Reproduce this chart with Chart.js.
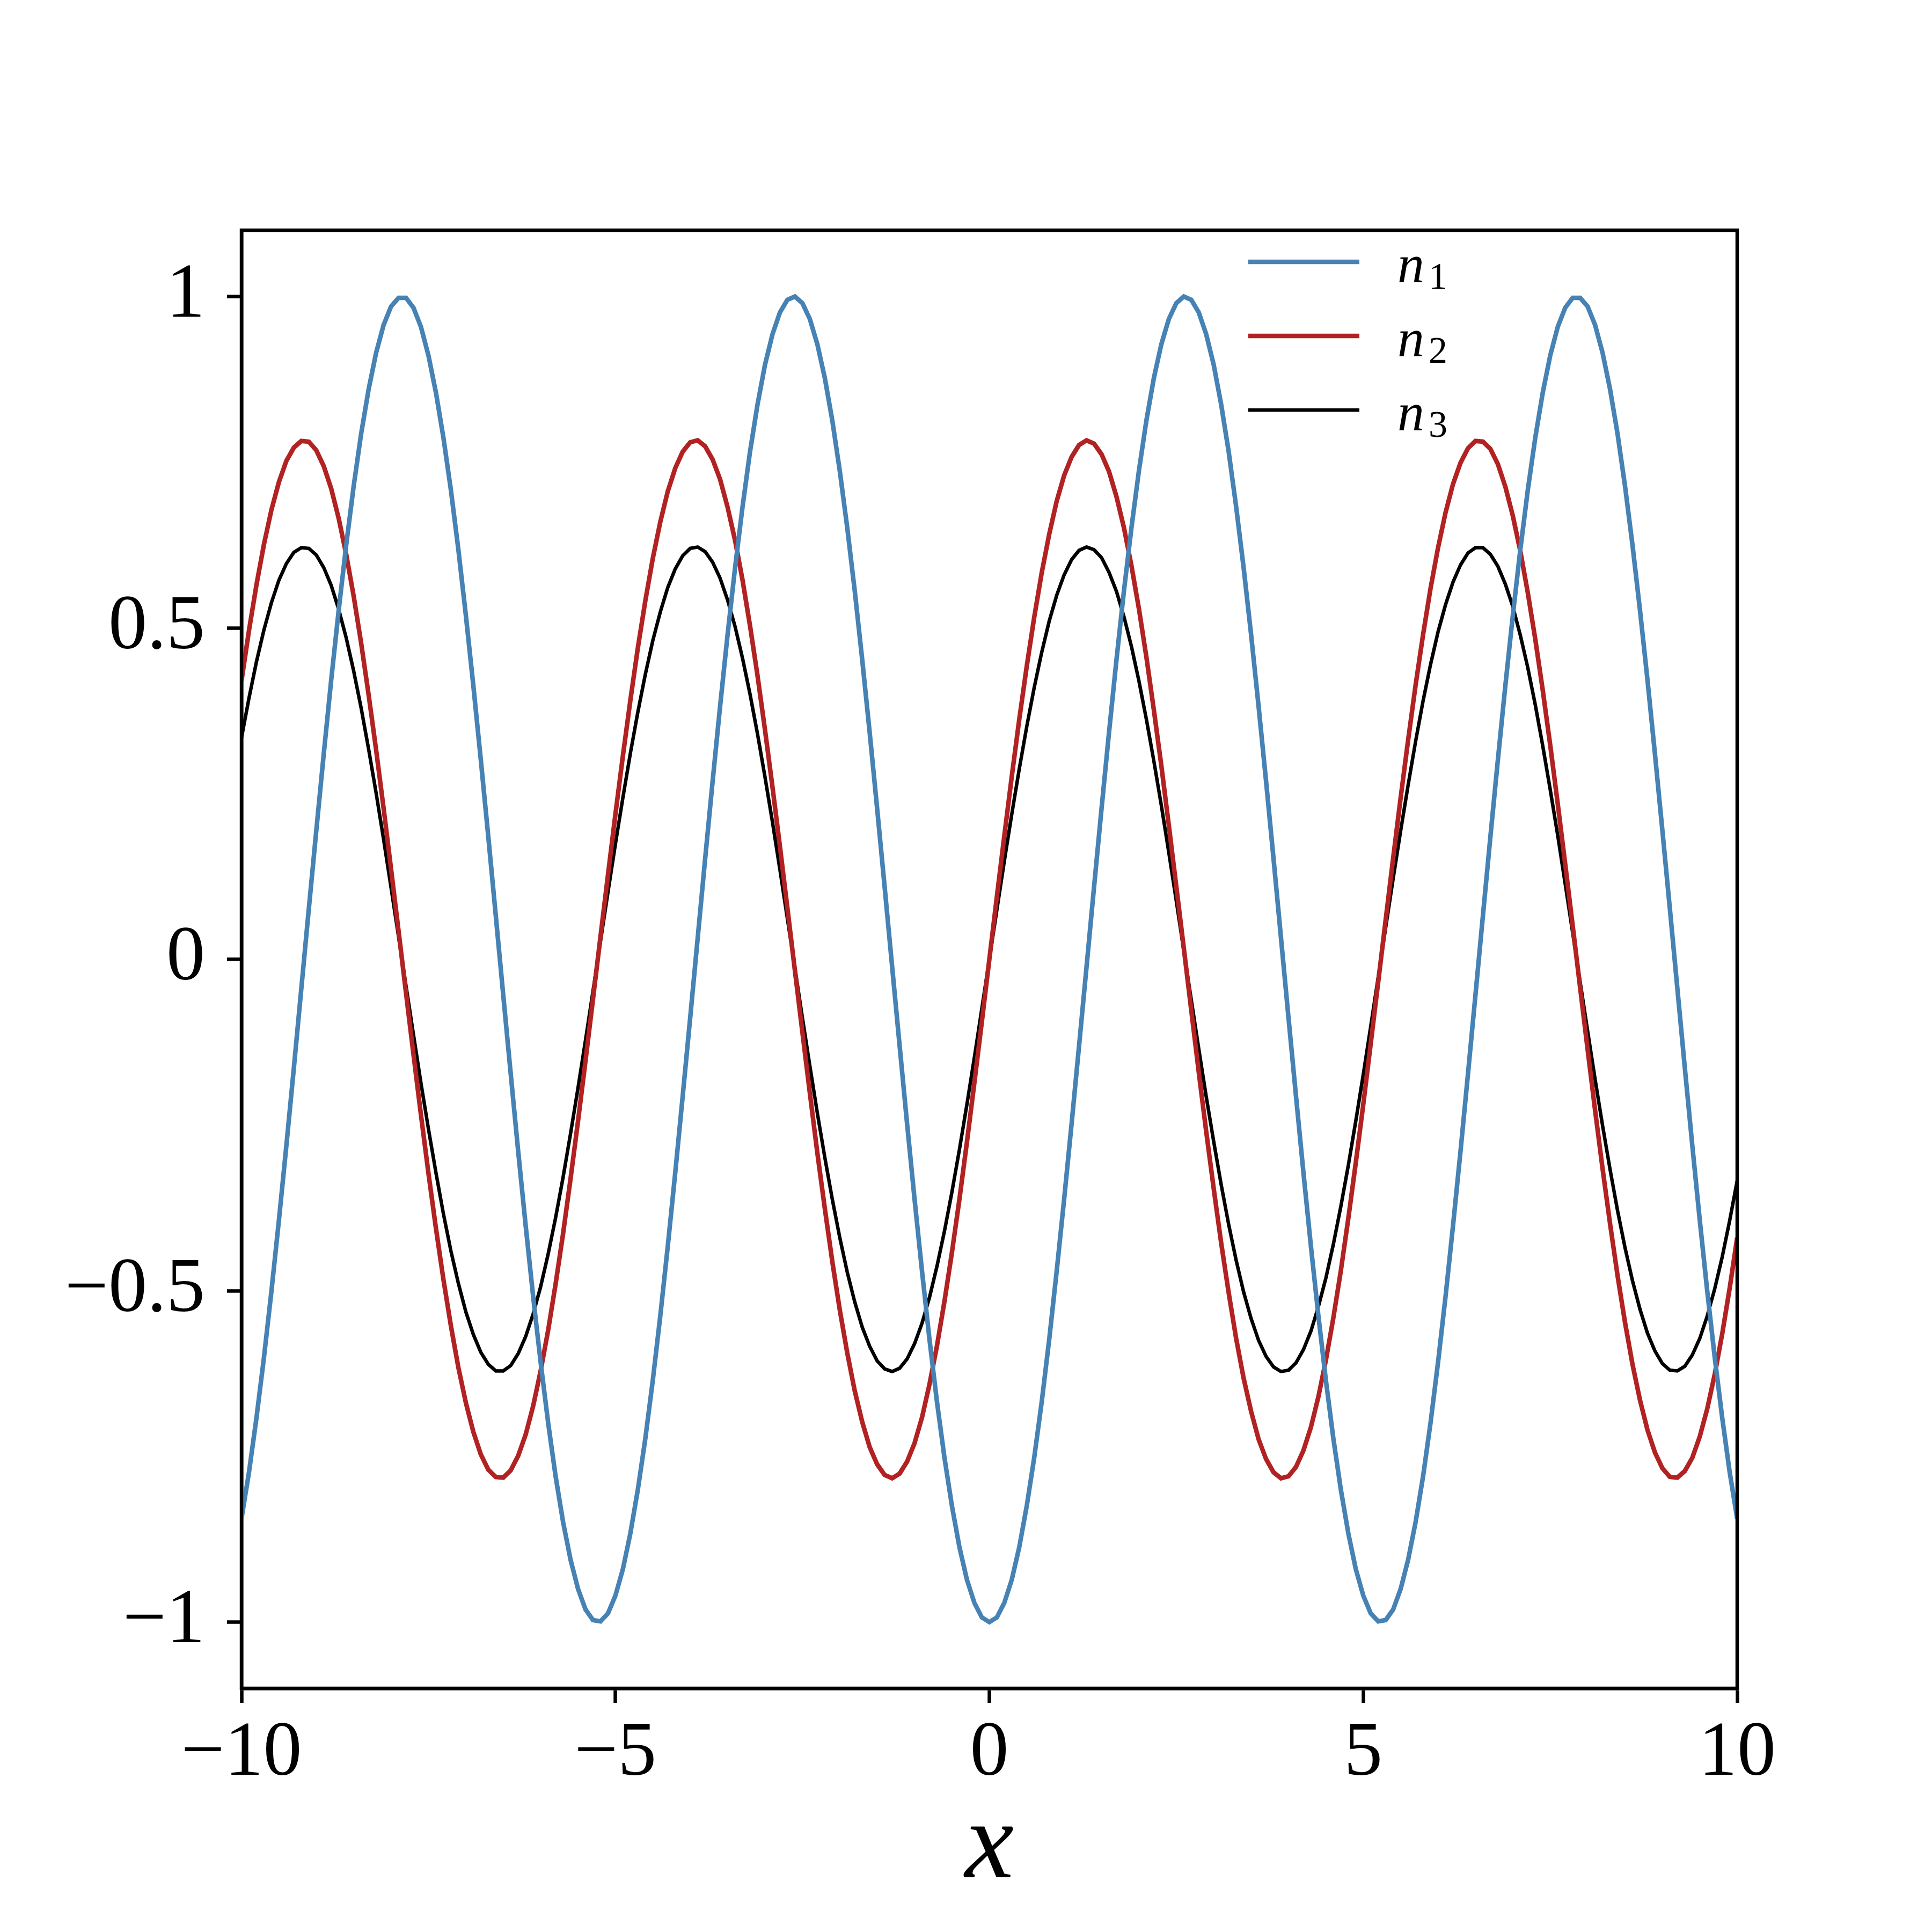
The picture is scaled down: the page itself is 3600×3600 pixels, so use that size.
<!DOCTYPE html>
<html>
<head>
<meta charset="utf-8">
<title>n1 n2 n3</title>
<script src="https://cdn.jsdelivr.net/npm/chart.js@4.4.1/dist/chart.umd.min.js"></script>
<style>
  html, body { margin: 0; padding: 0; background: #ffffff; }
  canvas { display: block; }
</style>
</head>
<body>
<canvas id="chart" width="3600" height="3600"></canvas>
<script>
// valores, x de -10 a 10 em passos de 0.1
const xValues = [
  -10, -9.9, -9.8, -9.7, -9.6, -9.5, -9.4, -9.3, -9.2, -9.1,
  -9, -8.9, -8.8, -8.7, -8.6, -8.5, -8.4, -8.3, -8.2, -8.1,
  -8, -7.9, -7.8, -7.7, -7.6, -7.5, -7.4, -7.3, -7.2, -7.1,
  -7, -6.9, -6.8, -6.7, -6.6, -6.5, -6.4, -6.3, -6.2, -6.1,
  -6, -5.9, -5.8, -5.7, -5.6, -5.5, -5.4, -5.3, -5.2, -5.1,
  -5, -4.9, -4.8, -4.7, -4.6, -4.5, -4.4, -4.3, -4.2, -4.1,
  -4, -3.9, -3.8, -3.7, -3.6, -3.5, -3.4, -3.3, -3.2, -3.1,
  -3, -2.9, -2.8, -2.7, -2.6, -2.5, -2.4, -2.3, -2.2, -2.1,
  -2, -1.9, -1.8, -1.7, -1.6, -1.5, -1.4, -1.3, -1.2, -1.1,
  -1, -0.9, -0.8, -0.7, -0.6, -0.5, -0.4, -0.3, -0.2, -0.1,
  0, 0.1, 0.2, 0.3, 0.4, 0.5, 0.6, 0.7, 0.8, 0.9,
  1, 1.1, 1.2, 1.3, 1.4, 1.5, 1.6, 1.7, 1.8, 1.9,
  2, 2.1, 2.2, 2.3, 2.4, 2.5, 2.6, 2.7, 2.8, 2.9,
  3, 3.1, 3.2, 3.3, 3.4, 3.5, 3.6, 3.7, 3.8, 3.9,
  4, 4.1, 4.2, 4.3, 4.4, 4.5, 4.6, 4.7, 4.8, 4.9,
  5, 5.1, 5.2, 5.3, 5.4, 5.5, 5.6, 5.7, 5.8, 5.9,
  6, 6.1, 6.2, 6.3, 6.4, 6.5, 6.6, 6.7, 6.8, 6.9,
  7, 7.1, 7.2, 7.3, 7.4, 7.5, 7.6, 7.7, 7.8, 7.9,
  8, 8.1, 8.2, 8.3, 8.4, 8.5, 8.6, 8.7, 8.8, 8.9,
  9, 9.1, 9.2, 9.3, 9.4, 9.5, 9.6, 9.7, 9.8, 9.9,
  10
];

const n1Values = [
  -0.844, -0.774, -0.692, -0.601, -0.501, -0.394, -0.281, -0.164, -0.044, 0.076,
  0.194, 0.310, 0.422, 0.527, 0.625, 0.714, 0.793, 0.860, 0.915, 0.957,
  0.985, 0.998, 0.998, 0.983, 0.954, 0.911, 0.855, 0.787, 0.708, 0.618,
  0.519, 0.413, 0.301, 0.185, 0.066, -0.054, -0.173, -0.290, -0.402, -0.509,
  -0.608, -0.699, -0.780, -0.849, -0.906, -0.950, -0.981, -0.997, -0.999, -0.987,
  -0.960, -0.920, -0.866, -0.800, -0.723, -0.635, -0.538, -0.433, -0.322, -0.206,
  -0.088, 0.032, 0.152, 0.269, 0.382, 0.490, 0.591, 0.683, 0.766, 0.837,
  0.897, 0.943, 0.976, 0.995, 1.000, 0.990, 0.966, 0.928, 0.877, 0.813,
  0.737, 0.651, 0.556, 0.452, 0.342, 0.227, 0.109, -0.011, -0.130, -0.248,
  -0.362, -0.471, -0.574, -0.668, -0.752, -0.825, -0.887, -0.936, -0.971, -0.993,
  -1.000, -0.993, -0.971, -0.936, -0.887, -0.825, -0.752, -0.668, -0.574, -0.471,
  -0.362, -0.248, -0.130, -0.011, 0.109, 0.227, 0.342, 0.452, 0.556, 0.651,
  0.737, 0.813, 0.877, 0.928, 0.966, 0.990, 1.000, 0.995, 0.976, 0.943,
  0.897, 0.837, 0.766, 0.683, 0.591, 0.490, 0.382, 0.269, 0.152, 0.032,
  -0.088, -0.206, -0.322, -0.433, -0.538, -0.635, -0.723, -0.800, -0.866, -0.920,
  -0.960, -0.987, -0.999, -0.997, -0.981, -0.950, -0.906, -0.849, -0.780, -0.699,
  -0.608, -0.509, -0.402, -0.290, -0.173, -0.054, 0.066, 0.185, 0.301, 0.413,
  0.519, 0.618, 0.708, 0.787, 0.855, 0.911, 0.954, 0.983, 0.998, 0.998,
  0.985, 0.957, 0.915, 0.860, 0.793, 0.714, 0.625, 0.527, 0.422, 0.310,
  0.194, 0.076, -0.044, -0.164, -0.281, -0.394, -0.501, -0.601, -0.692, -0.774,
  -0.844
];

const n2Values = [
  0.420, 0.496, 0.565, 0.626, 0.678, 0.720, 0.752, 0.772, 0.782, 0.781,
  0.768, 0.744, 0.710, 0.665, 0.611, 0.548, 0.477, 0.399, 0.316, 0.228,
  0.136, 0.043, -0.051, -0.144, -0.235, -0.323, -0.406, -0.483, -0.553, -0.616,
  -0.669, -0.713, -0.747, -0.770, -0.781, -0.782, -0.771, -0.749, -0.717, -0.674,
  -0.621, -0.560, -0.490, -0.414, -0.331, -0.244, -0.153, -0.060, 0.034, 0.127,
  0.219, 0.307, 0.391, 0.470, 0.541, 0.605, 0.660, 0.706, 0.741, 0.766,
  0.780, 0.783, 0.774, 0.754, 0.724, 0.682, 0.632, 0.572, 0.503, 0.428,
  0.346, 0.260, 0.170, 0.077, -0.017, -0.110, -0.202, -0.292, -0.376, -0.456,
  -0.529, -0.594, -0.651, -0.698, -0.736, -0.762, -0.778, -0.783, -0.776, -0.758,
  -0.730, -0.691, -0.641, -0.583, -0.516, -0.442, -0.362, -0.276, -0.186, -0.094,
  0.000, 0.094, 0.186, 0.276, 0.362, 0.442, 0.516, 0.583, 0.641, 0.691,
  0.730, 0.758, 0.776, 0.783, 0.778, 0.762, 0.736, 0.698, 0.651, 0.594,
  0.529, 0.456, 0.376, 0.292, 0.202, 0.110, 0.017, -0.077, -0.170, -0.260,
  -0.346, -0.428, -0.503, -0.572, -0.632, -0.682, -0.724, -0.754, -0.774, -0.783,
  -0.780, -0.766, -0.741, -0.706, -0.660, -0.605, -0.541, -0.470, -0.391, -0.307,
  -0.219, -0.127, -0.034, 0.060, 0.153, 0.244, 0.331, 0.414, 0.490, 0.560,
  0.621, 0.674, 0.717, 0.749, 0.771, 0.782, 0.781, 0.770, 0.747, 0.713,
  0.669, 0.616, 0.553, 0.483, 0.406, 0.323, 0.235, 0.144, 0.051, -0.043,
  -0.136, -0.228, -0.316, -0.399, -0.477, -0.548, -0.611, -0.665, -0.710, -0.744,
  -0.768, -0.781, -0.782, -0.772, -0.752, -0.720, -0.678, -0.626, -0.565, -0.496,
  -0.420
];

const n3Values = [
  0.334, 0.394, 0.449, 0.497, 0.538, 0.572, 0.597, 0.614, 0.621, 0.620,
  0.610, 0.591, 0.564, 0.528, 0.485, 0.435, 0.379, 0.317, 0.251, 0.181,
  0.108, 0.034, -0.040, -0.114, -0.187, -0.256, -0.322, -0.384, -0.440, -0.489,
  -0.532, -0.566, -0.593, -0.611, -0.621, -0.621, -0.613, -0.595, -0.569, -0.535,
  -0.494, -0.445, -0.390, -0.329, -0.263, -0.194, -0.122, -0.048, 0.027, 0.101,
  0.174, 0.244, 0.311, 0.373, 0.430, 0.481, 0.524, 0.561, 0.589, 0.609,
  0.620, 0.622, 0.615, 0.599, 0.575, 0.542, 0.502, 0.454, 0.400, 0.340,
  0.275, 0.207, 0.135, 0.061, -0.013, -0.088, -0.161, -0.232, -0.299, -0.362,
  -0.420, -0.472, -0.517, -0.555, -0.584, -0.606, -0.618, -0.622, -0.617, -0.603,
  -0.580, -0.549, -0.510, -0.463, -0.410, -0.351, -0.287, -0.219, -0.148, -0.074,
  0.000, 0.074, 0.148, 0.219, 0.287, 0.351, 0.410, 0.463, 0.510, 0.549,
  0.580, 0.603, 0.617, 0.622, 0.618, 0.606, 0.584, 0.555, 0.517, 0.472,
  0.420, 0.362, 0.299, 0.232, 0.161, 0.088, 0.013, -0.061, -0.135, -0.207,
  -0.275, -0.340, -0.400, -0.454, -0.502, -0.542, -0.575, -0.599, -0.615, -0.622,
  -0.620, -0.609, -0.589, -0.561, -0.524, -0.481, -0.430, -0.373, -0.311, -0.244,
  -0.174, -0.101, -0.027, 0.048, 0.122, 0.194, 0.263, 0.329, 0.390, 0.445,
  0.494, 0.535, 0.569, 0.595, 0.613, 0.621, 0.621, 0.611, 0.593, 0.566,
  0.532, 0.489, 0.440, 0.384, 0.322, 0.256, 0.187, 0.114, 0.040, -0.034,
  -0.108, -0.181, -0.251, -0.317, -0.379, -0.435, -0.485, -0.528, -0.564, -0.591,
  -0.610, -0.620, -0.621, -0.614, -0.597, -0.572, -0.538, -0.497, -0.449, -0.394,
  -0.334
];

const seriesLabels = ['n₁', 'n₂', 'n₃'];
const xTickValues = [-10, -5, 0, 5, 10];
const yTickValues = [-1, -0.5, 0, 0.5, 1];

const SERIF = '"Liberation Serif", "DejaVu Serif", serif';

function toPoints(ys) {
    return xValues.map((x, i) => ({ x: x, y: ys[i] }));
}

function fmtTick(value) {
    // sinal de menos tipográfico, como no original
    return value < 0 ? '\u2212' + Math.abs(value) : String(value);
}

// moldura completa em volta da área do gráfico
const framePlugin = {
    id: 'frame',
    afterDatasetsDraw(chart) {
        const { ctx, chartArea } = chart;
        ctx.save();
        ctx.strokeStyle = '#000000';
        ctx.lineWidth = 6.5;
        ctx.strokeRect(chartArea.left, chartArea.top,
            chartArea.right - chartArea.left, chartArea.bottom - chartArea.top);
        ctx.restore();
    }
};

// legenda dentro do gráfico, sem moldura, com índice subscrito
const legendPlugin = {
    id: 'innerLegend',
    afterDraw(chart) {
        const ctx = chart.ctx;
        chart.data.datasets.forEach((ds, i) => {
            const y = 488 + i * 138;
            ctx.save();
            ctx.strokeStyle = ds.borderColor;
            ctx.lineWidth = ds.borderWidth;
            ctx.beginPath();
            ctx.moveTo(2326, y);
            ctx.lineTo(2533, y);
            ctx.stroke();

            ctx.fillStyle = '#000000';
            ctx.textBaseline = 'alphabetic';
            ctx.textAlign = 'left';
            ctx.font = 'italic 100px ' + SERIF;
            const base = ds.label.charAt(0);
            ctx.fillText(base, 2604, y + 37);
            const w = ctx.measureText(base).width;
            const sub = String(ds.label.charCodeAt(1) - 0x2080);
            ctx.font = '70px ' + SERIF;
            ctx.fillText(sub, 2604 + w + 8, y + 50);
            ctx.restore();
        });
    }
};

function initializeChart() {
    const ctx = document.getElementById('chart').getContext('2d');

    new Chart(ctx, {
        type: 'line',
        data: {
            datasets: [{
                label: seriesLabels[0],
                data: toPoints(n1Values),
                borderColor: '#4682b4',
                borderWidth: 8.5,
                pointRadius: 0,
                tension: 0,
                fill: false,
                clip: 0
            }, {
                label: seriesLabels[1],
                data: toPoints(n2Values),
                borderColor: '#b22222',
                borderWidth: 8.5,
                pointRadius: 0,
                tension: 0,
                fill: false,
                clip: 0
            }, {
                label: seriesLabels[2],
                data: toPoints(n3Values),
                borderColor: '#000000',
                borderWidth: 6.5,
                pointRadius: 0,
                tension: 0,
                fill: false,
                clip: 0
            }]
        },
        options: {
            responsive: false,
            devicePixelRatio: 1,
            animation: false,
            events: [],
            layout: {
                padding: { top: 429, right: 363, bottom: 0, left: 0 }
            },
            scales: {
                x: {
                    type: 'linear',
                    min: -10,
                    max: 10,
                    afterFit(scale) { scale.height = 454; },
                    afterBuildTicks(scale) {
                        scale.ticks = xTickValues.map(v => ({ value: v }));
                    },
                    grid: {
                        drawOnChartArea: false,
                        drawTicks: true,
                        tickLength: 27,
                        tickWidth: 6.5,
                        tickColor: '#000000'
                    },
                    border: { display: true, color: '#000000', width: 6.5 },
                    ticks: {
                        color: '#000000',
                        padding: 10,
                        maxRotation: 0,
                        font: { family: SERIF, size: 144 },
                        callback: fmtTick
                    },
                    title: {
                        display: true,
                        text: 'x',
                        color: '#000000',
                        font: { family: SERIF, size: 205, style: 'italic' },
                        padding: { top: 0, bottom: 33 }
                    }
                },
                y: {
                    type: 'linear',
                    min: -1.1,
                    max: 1.1,
                    afterFit(scale) { scale.width = 450; },
                    afterBuildTicks(scale) {
                        scale.ticks = yTickValues.map(v => ({ value: v }));
                    },
                    grid: {
                        drawOnChartArea: false,
                        drawTicks: true,
                        tickLength: 27,
                        tickWidth: 6.5,
                        tickColor: '#000000'
                    },
                    border: { display: true, color: '#000000', width: 6.5 },
                    ticks: {
                        color: '#000000',
                        padding: 41,
                        font: { family: SERIF, size: 144 },
                        callback: fmtTick
                    }
                }
            },
            plugins: {
                legend: { display: false },
                tooltip: { enabled: false },
                title: { display: false }
            }
        },
        plugins: [framePlugin, legendPlugin]
    });
}

initializeChart();
</script>
</body>
</html>
